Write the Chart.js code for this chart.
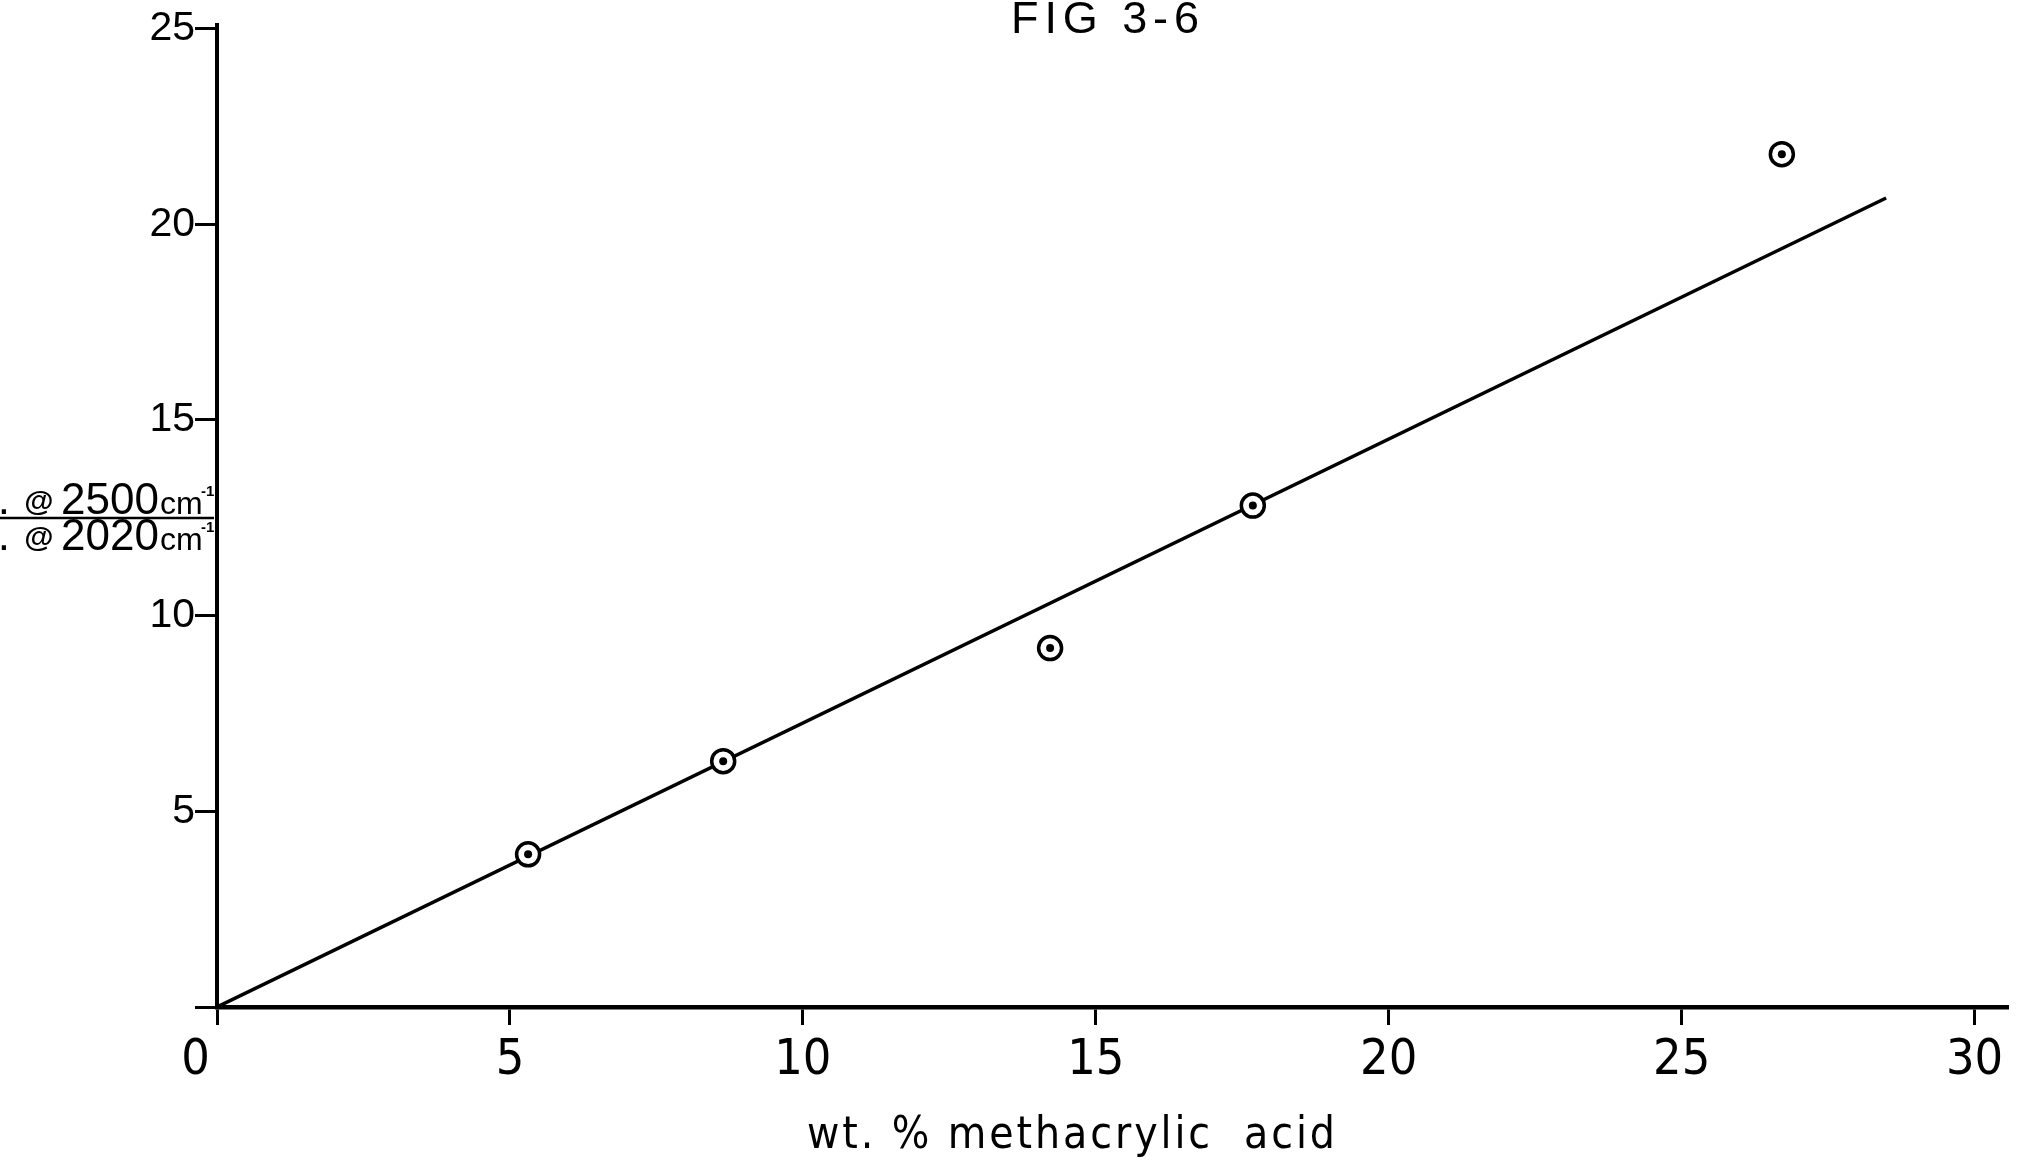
<!DOCTYPE html>
<html><head><meta charset="utf-8">
<script src="https://cdn.jsdelivr.net/npm/chart.js@4.4.1/dist/chart.umd.min.js"></script>
<style>html,body{margin:0;padding:0;background:#fff;overflow:hidden}canvas{display:block}</style>
</head><body>
<canvas id="c" width="2029" height="1167"></canvas>
<script>
// ---- data ----
const chartTitle = 'FIG 3-6';
const xAxisTitle = 'wt. % methacrylic  acid';
const yLabelNumerator = ['O.D.', '@', '2500', 'cm', '-1'];
const yLabelDenominator = ['O.D.', '@', '2020', 'cm', '-1'];
const wtPercent = [5.31, 8.64, 14.22, 17.68, 26.71];
const odRatio = [3.90, 6.28, 9.17, 12.81, 21.79];
const fitWt = [0, 28.49];
const fitOd = [0, 20.67];
const xTickValues = [0, 5, 10, 15, 20, 25, 30];
const yTickValues = [0, 5, 10, 15, 20, 25];

const pts = wtPercent.map((x, i) => ({x, y: odRatio[i]}));
const fitPts = fitWt.map((x, i) => ({x, y: fitOd[i]}));

function fitText(ctx, text, left, right, baseline) {
  ctx.letterSpacing = '0px';
  const w = ctx.measureText(text).width;
  const ls = (right - left - w) / Math.max(1, text.length - 1);
  ctx.letterSpacing = ls + 'px';
  ctx.textAlign = 'left';
  ctx.fillText(text, left, baseline);
  ctx.letterSpacing = '0px';
}

function drawYLabel(ctx, parts, baseline) {
  const [od, at, num, cm, sup] = parts;
  ctx.font = '44px "Liberation Sans", Arial, sans-serif';
  ctx.textAlign = 'right';
  ctx.fillText(od, 10, baseline);
  ctx.font = 'bold 30px "Liberation Sans", Arial, sans-serif';
  ctx.textAlign = 'center';
  ctx.fillText(at, 39, baseline - 3);
  ctx.font = '44px "Liberation Sans", Arial, sans-serif';
  ctx.textAlign = 'left';
  ctx.fillText(num, 61, baseline);
  ctx.font = '32px "Liberation Sans", Arial, sans-serif';
  ctx.fillText(cm, 160, baseline);
  ctx.font = 'bold 15px "Liberation Sans", Arial, sans-serif';
  ctx.fillText(sup, 201, baseline - 18);
}

const textPlugin = {
  id: 'texts',
  afterDraw(chart) {
    const ctx = chart.ctx;
    ctx.save();
    ctx.fillStyle = '#000';
    ctx.textBaseline = 'alphabetic';
    ctx.font = '45px "Liberation Sans", Arial, sans-serif';
    fitText(ctx, chartTitle, 1011, 1199, 33);
    ctx.font = '44px "Liberation Sans Narrow", "DejaVu Sans Condensed", "Liberation Sans", sans-serif';
    fitText(ctx, xAxisTitle, 807, 1335, 1148);
    drawYLabel(ctx, yLabelNumerator, 514);
    drawYLabel(ctx, yLabelDenominator, 550);
    ctx.strokeStyle = '#000';
    ctx.lineWidth = 2.5;
    ctx.beginPath();
    ctx.moveTo(0, 518); ctx.lineTo(214, 518);
    ctx.stroke();
    ctx.restore();
  }
};

const bg = {
  id: 'bg',
  beforeDraw(chart) {
    const ctx = chart.ctx;
    ctx.save(); ctx.fillStyle = '#fff';
    ctx.fillRect(0, 0, chart.width, chart.height);
    ctx.restore();
  }
};

new Chart(document.getElementById('c'), {
  type: 'scatter',
  data: {
    datasets: [
      {data: fitPts, showLine: true, borderColor: '#000', borderWidth: 3.5, pointRadius: 0, order: 3},
      {data: pts, pointRadius: 11.5, pointBorderWidth: 3.5, pointBackgroundColor: '#fff', pointBorderColor: '#000', order: 2},
      {data: pts, pointRadius: 4, pointBorderWidth: 0, pointBackgroundColor: '#000', pointBorderColor: '#000', order: 1}
    ]
  },
  options: {
    responsive: false,
    devicePixelRatio: 1,
    animation: false,
    layout: {padding: {left: 0, top: 22, right: 21, bottom: 0}},
    plugins: {legend: {display: false}, tooltip: {enabled: false}},
    scales: {
      x: {
        type: 'linear', min: 0, max: 30.57,
        afterBuildTicks: s => { s.ticks = xTickValues.map(v => ({value: v})); },
        afterFit: s => { s.height = 160; },
        border: {display: true, color: '#000', width: 4.5},
        grid: {drawOnChartArea: false, drawTicks: true, tickLength: 18, tickWidth: 3, tickColor: '#000'},
        ticks: {
          color: '#000', padding: 6, maxRotation: 0, autoSkip: false,
          font: {family: '"Liberation Sans Narrow", "DejaVu Sans Condensed", "Liberation Sans", sans-serif', size: 50},
          callback: v => v === 0 ? '0   ' : String(v)
        }
      },
      y: {
        type: 'linear', min: 0, max: 25.1,
        afterBuildTicks: s => { s.ticks = yTickValues.map(v => ({value: v})); },
        afterFit: s => { s.width = 217; },
        border: {display: true, color: '#000', width: 4},
        grid: {drawOnChartArea: false, drawTicks: true, tickLength: 22, tickWidth: 3, tickColor: '#000'},
        ticks: {
          color: '#000', padding: 0, autoSkip: false,
          font: {family: '"Liberation Sans", Arial, sans-serif', size: 41},
          callback: v => v === 0 ? '' : String(v)
        }
      }
    }
  },
  plugins: [bg, textPlugin]
});
</script>
</body></html>
